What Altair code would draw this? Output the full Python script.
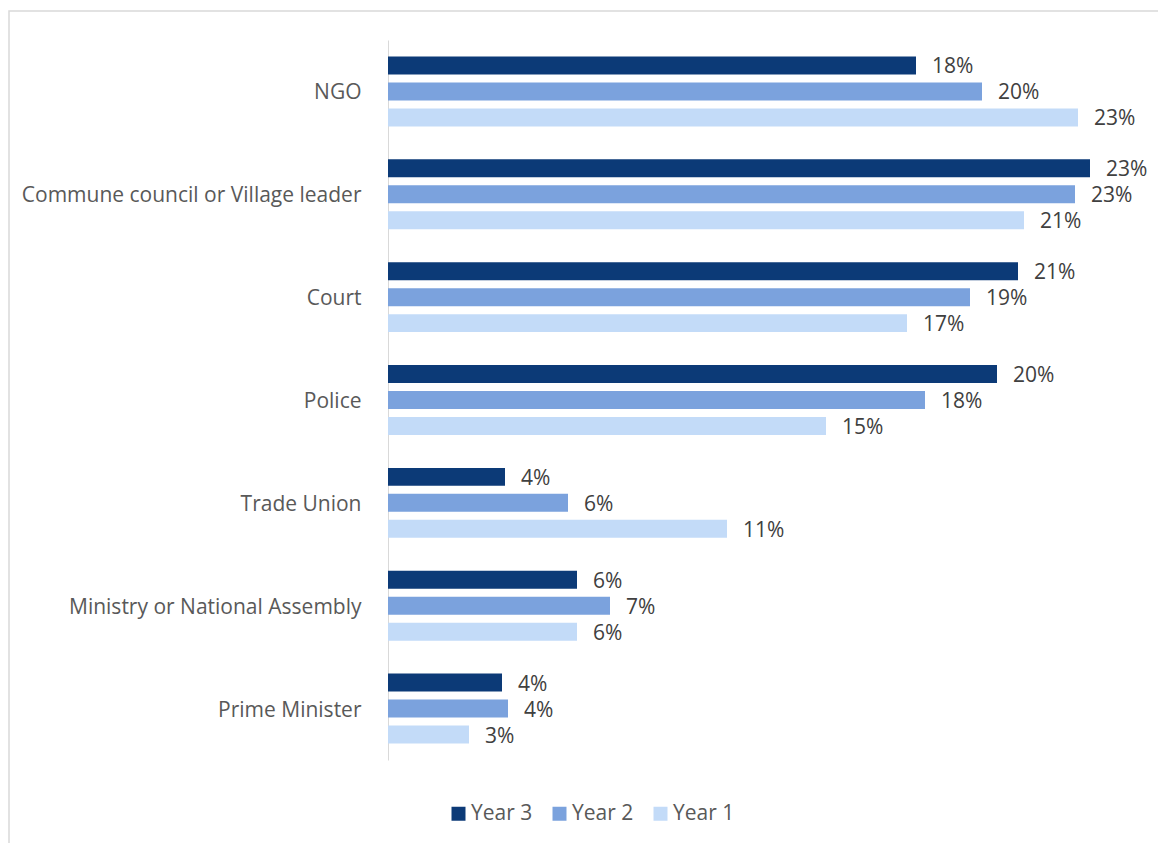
import altair as alt
import pandas as pd

# Share of respondents naming each institution, by survey year
institutions = [
    "NGO",
    "Commune council or Village leader",
    "Court",
    "Police",
    "Trade Union",
    "Ministry or National Assembly",
    "Prime Minister",
]
years = ["Year 3", "Year 2", "Year 1"]
year3 = [0.176, 0.234, 0.210, 0.203, 0.039, 0.063, 0.038]
year2 = [0.198, 0.229, 0.194, 0.179, 0.060, 0.074, 0.040]
year1 = [0.230, 0.212, 0.173, 0.146, 0.113, 0.063, 0.027]
colors = ["#0c3a77", "#7ba2dd", "#c3dbf8"]

rows = []
for series_name, series in zip(years, [year3, year2, year1]):
    for inst, v in zip(institutions, series):
        rows.append({"institution": inst, "year": series_name, "share": v})
df = pd.DataFrame(rows)

FONT = "Open Sans"
FS = 21
W, H = 750, 720

y_enc = alt.Y(
    "institution:N",
    sort=institutions,
    scale=alt.Scale(paddingInner=0.32, paddingOuter=0.16),
    axis=alt.Axis(
        title=None,
        ticks=False,
        labelPadding=27,
        labelOffset=2,
        labelLimit=400,
        labelFontSize=FS,
        labelFont=FONT,
        labelColor="#595959",
        domainColor="#d9d9d9",
        domainWidth=1,
        grid=False,
    ),
)
yoff_enc = alt.YOffset("year:N", sort=years, scale=alt.Scale(paddingInner=0.308, paddingOuter=0))
x_enc = alt.X("share:Q", scale=alt.Scale(domain=[0, 0.25], nice=False), axis=None)

bars = alt.Chart(df).mark_bar().encode(
    x=x_enc,
    y=y_enc,
    yOffset=yoff_enc,
    color=alt.Color(
        "year:N",
        scale=alt.Scale(domain=years, range=colors),
        legend=alt.Legend(
            title=None,
            orient="none",
            direction="horizontal",
            legendX=60,
            legendY=763,
            symbolType="square",
            symbolSize=196,
            symbolStrokeWidth=0,
            labelFontSize=FS,
            labelFont=FONT,
            labelColor="#595959",
            labelOffset=2,
            columnPadding=16,
        ),
    ),
)

labels = alt.Chart(df).mark_text(
    align="left", baseline="middle", dx=16, dy=2, fontSize=FS, font=FONT, color="#404040"
).encode(
    x=x_enc,
    y=alt.Y("institution:N", sort=institutions),
    yOffset=yoff_enc,
    text=alt.Text("share:Q", format=".0%"),
)

# light outer frame of the figure
frame = alt.Chart(alt.Data(values=[{}])).mark_rect(
    fill=None, stroke="#d9d9d9", strokeWidth=1.5
).encode(
    x=alt.value(-379),
    x2=alt.value(900),
    y=alt.value(-29),
    y2=alt.value(900),
)

chart = (
    alt.layer(frame, bars, labels)
    .properties(
        width=W,
        height=H,
        autosize=alt.AutoSizeParams(type="none"),
        padding={"left": 388, "top": 40, "right": 20, "bottom": 83},
        background="white",
    )
    .configure_view(stroke=None)
)

chart.save("out.html", embed_options={"renderer": "svg", "actions": False})
